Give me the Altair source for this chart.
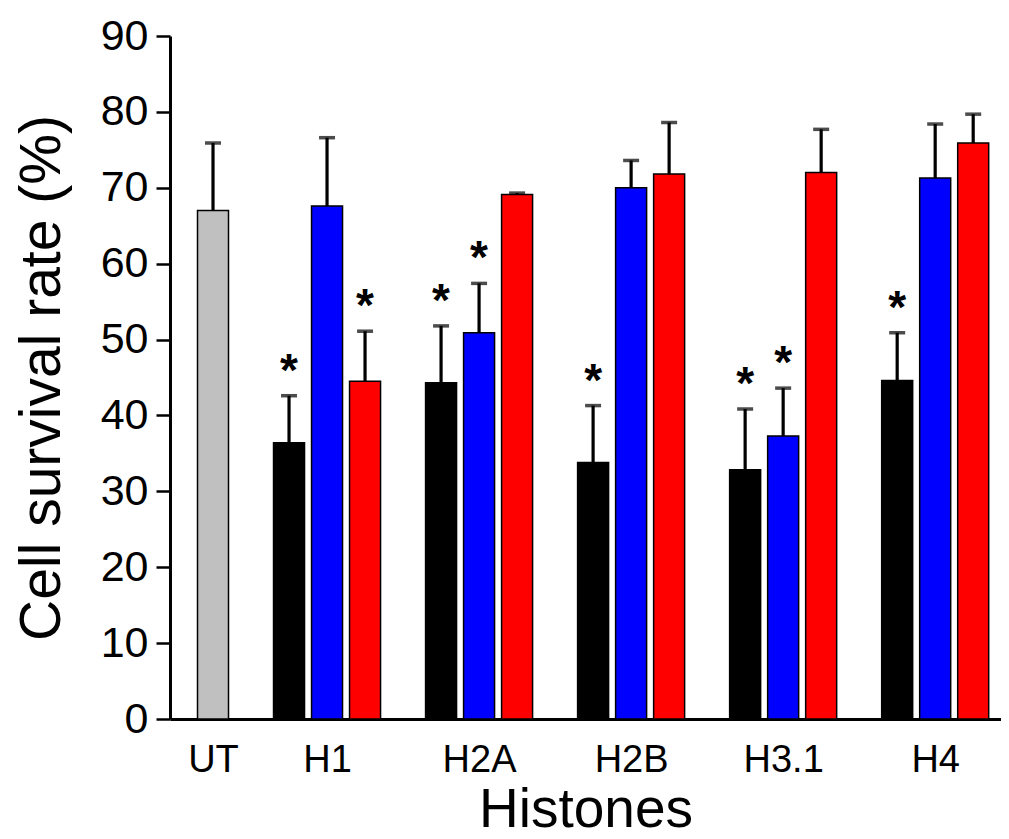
import altair as alt
import pandas as pd

# ---- data ----
groups = ["UT", "H1", "H2A", "H2B", "H3.1", "H4"]
series_names = ["Untreated", "Treatment A", "Treatment B", "Treatment C"]
series_colors = ["#c0c0c0", "#000000", "#0000ff", "#ff0000"]

ut_mean = [67.0]
ut_sd = [8.9]
ut_sig = [False]

# per histone: [series A, series B, series C]
means = {
    "H1":   [36.4, 67.6, 44.5],
    "H2A":  [44.3, 50.9, 69.1],
    "H2B":  [33.8, 70.0, 71.8],
    "H3.1": [32.85, 37.3, 72.0],
    "H4":   [44.6, 71.3, 75.9],
}
sds = {
    "H1":   [6.2, 9.0, 6.6],
    "H2A":  [7.5, 6.5, 0.2],
    "H2B":  [7.5, 3.6, 6.8],
    "H3.1": [8.0, 6.3, 5.7],
    "H4":   [6.3, 7.1, 3.8],
}
sig = {
    "H1":   [True, False, True],
    "H2A":  [True, True, False],
    "H2B":  [True, False, False],
    "H3.1": [True, True, False],
    "H4":   [True, False, False],
}

# ---- table build (slot index: 4 slots per group; UT sits in the 3rd slot of group 0) ----
rows = [dict(group="UT", series=series_names[0], slot=2, mean=ut_mean[0],
             top=ut_mean[0] + ut_sd[0], sig=ut_sig[0])]
for gi, g in enumerate(groups[1:], start=1):
    for si in range(3):
        rows.append(dict(group=g, series=series_names[si + 1], slot=gi * 4 + si,
                         mean=means[g][si], top=means[g][si] + sds[g][si],
                         sig=sig[g][si]))
df = pd.DataFrame(rows)

label_slots = [2] + [gi * 4 + 1 for gi in range(1, len(groups))]
label_arr = [""] * 24
for s, g in zip(label_slots, groups):
    label_arr[s] = g
label_expr = "[" + ",".join("'" + t + "'" for t in label_arr) + "][datum.value]"

FONT = "Liberation Sans"

xscale = alt.Scale(domain=[1, 22.6], nice=False, zero=False)
yscale = alt.Scale(domain=[0, 90], nice=False)

xaxis = alt.Axis(values=label_slots, labelExpr=label_expr, ticks=False, grid=False,
                 domainColor="black", domainWidth=3, labelFontSize=38, labelFont=FONT,
                 labelColor="black", labelPadding=22, title="Histones",
                 titleFontSize=55, titleFont=FONT, titleFontWeight="normal",
                 titleColor="black", titleBaseline="alphabetic", titleY=107)
yaxis = alt.Axis(values=list(range(0, 91, 10)), grid=False, domainColor="black",
                 domainWidth=3, tickColor="black", tickWidth=2.5, tickSize=14,
                 labelFontSize=43, labelFont=FONT, labelColor="black", labelPadding=8,
                 title="Cell survival rate (%)", titleFontSize=57, titleFont=FONT,
                 titleFontWeight="normal", titleColor="black",
                 titleBaseline="alphabetic", titleX=-111)

base = alt.Chart(df)

bars = base.mark_bar(width=31, stroke="black", strokeWidth=1.5).encode(
    x=alt.X("slot:Q", scale=xscale, axis=xaxis),
    y=alt.Y("mean:Q", scale=yscale, axis=yaxis),
    fill=alt.Fill("series:N", scale=alt.Scale(domain=series_names, range=series_colors),
                  legend=None),
)

err = base.mark_rule(color="black", strokeWidth=3.2).encode(
    x=alt.X("slot:Q", scale=xscale),
    y=alt.Y("mean:Q", scale=yscale),
    y2="top:Q",
)

caps = base.mark_tick(orient="horizontal", color="black", size=16, thickness=3.5).encode(
    x=alt.X("slot:Q", scale=xscale),
    y=alt.Y("top:Q", scale=yscale),
)

stars = base.transform_filter("datum.sig").mark_text(
    text="*", fontSize=46, font=FONT, fontWeight="bold", color="black",
    baseline="alphabetic", dy=-10
).encode(
    x=alt.X("slot:Q", scale=xscale),
    y=alt.Y("top:Q", scale=yscale),
)

chart = (bars + err + caps + stars).properties(
    width=831, height=683,
    autosize=alt.AutoSizeParams(type="none"),
    padding={"left": 162, "top": 28, "right": 0, "bottom": 123},
    background="white",
).configure_view(strokeWidth=0)

chart.save("out.html", embed_options={"renderer": "svg", "actions": False})
